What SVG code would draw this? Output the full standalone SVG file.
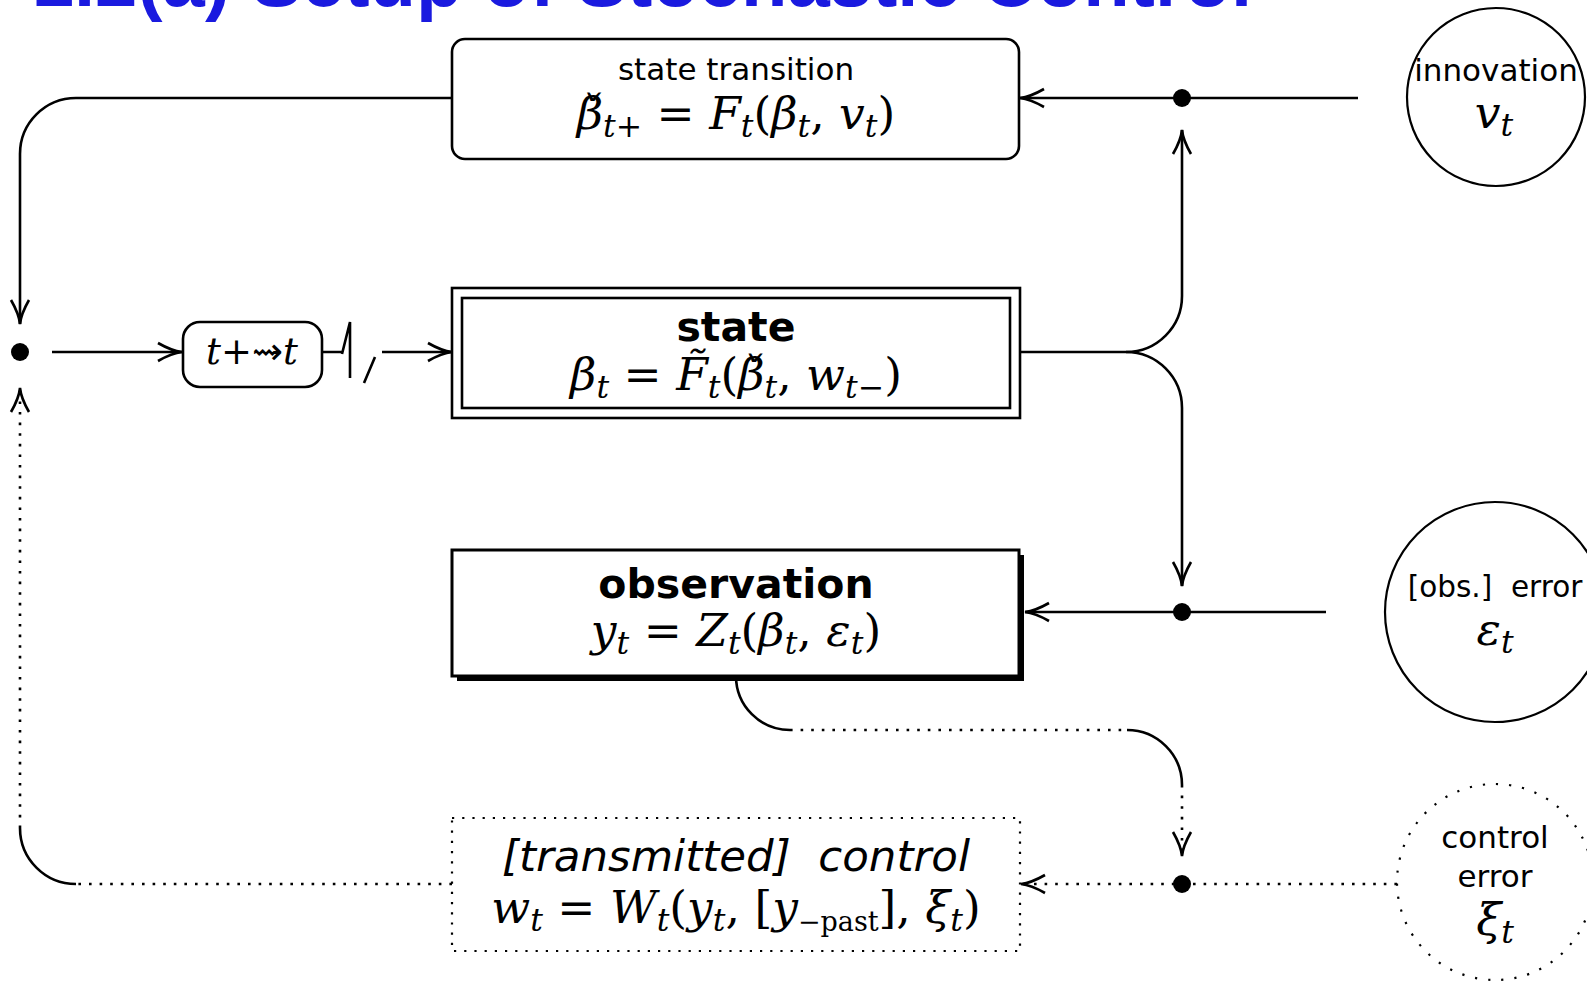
<svg xmlns="http://www.w3.org/2000/svg" width="1587" height="981" viewBox="0 0 1587 981">
<style>
.bx{fill:#fff;stroke:#000;stroke-width:2.6}
.ln{fill:none;stroke:#000;stroke-width:2.6}
.dt{fill:none;stroke:#000;stroke-width:2.6;stroke-dasharray:2.6 8}
.sf{font-family:"DejaVu Sans",sans-serif;font-size:31px;fill:#000}
.bf{font-family:"DejaVu Sans",sans-serif;font-weight:bold;font-size:41px;fill:#000}
.m{font-family:"DejaVu Serif",serif;font-size:45.5px;fill:#000;white-space:pre}
.i{font-style:italic}
.s{font-size:31.5px}
.jd{fill:#000}
</style>
<defs>
<marker id="ah" markerWidth="30" markerHeight="24" refX="26" refY="12" orient="auto" markerUnits="userSpaceOnUse" viewBox="0 0 30 24">
<path d="M2,3 Q16,11 26,12 Q16,13 2,21" fill="none" stroke="#000" stroke-width="2.6" stroke-dasharray="none"/>
</marker>
</defs>
<text x="1252" y="6" text-anchor="end" font-family="Liberation Sans, sans-serif" font-weight="bold" font-size="76" fill="#1a1adf">1.2(a) Setup of Stochastic Control</text>
<g id="connectors">
<path class="ln" d="M452,98 H76 A56,56 0 0 0 20,154 V324" marker-end="url(#ah)"/>
<path class="ln" d="M52,352 H182" marker-end="url(#ah)"/>
<path class="ln" d="M322,352 H342 M342,354 L350,322 V378 M364,383 L375,357"/>
<path class="ln" d="M382,352 H452" marker-end="url(#ah)"/>
<path class="ln" d="M1020,352 H1126 A56,56 0 0 0 1182,296 V130" marker-end="url(#ah)"/>
<path class="ln" d="M1126,352 A56,56 0 0 1 1182,408 V586" marker-end="url(#ah)"/>
<path class="ln" d="M1358,98 H1020" marker-end="url(#ah)"/>
<path class="ln" d="M1326,612 H1025" marker-end="url(#ah)"/>
<path class="ln" d="M736,676 A54,54 0 0 0 790,730"/>
<path class="dt" d="M790,730 H1127"/>
<path class="ln" d="M1127,730 A55,55 0 0 1 1182,785"/>
<path class="dt" d="M1182,785 V856" marker-end="url(#ah)"/>
<path class="dt" d="M1397,884 H1021" marker-end="url(#ah)"/>
<path class="dt" d="M452,884 H76"/>
<path class="ln" d="M76,884 A56,56 0 0 1 20,828"/>
<path class="dt" d="M20,828 V388" marker-end="url(#ah)"/>
<circle class="jd" cx="20" cy="352" r="9"/>
<circle class="jd" cx="1182" cy="98" r="9"/>
<circle class="jd" cx="1182" cy="612" r="9"/>
<circle class="jd" cx="1182" cy="884" r="9"/>
</g>
<g id="transition">
<rect class="bx" x="452" y="39" width="567" height="120" rx="13"/>
<text class="sf" x="736" y="80" text-anchor="middle">state transition</text>
<text class="m" x="736" y="129" text-anchor="middle"><tspan class="i">β̌</tspan><tspan class="i s" dy="8">t</tspan><tspan class="s">+</tspan><tspan dy="-8"> = </tspan><tspan class="i">F</tspan><tspan class="i s" dy="8">t</tspan><tspan dy="-8">(</tspan><tspan class="i">β</tspan><tspan class="i s" dy="8">t</tspan><tspan dy="-8">, </tspan><tspan class="i">v</tspan><tspan class="i s" dy="8">t</tspan><tspan dy="-8">)</tspan></text>
</g>
<g id="delay">
<rect class="bx" x="183" y="322" width="139" height="65" rx="17"/>
<text class="m" x="252" y="364" text-anchor="middle" style="font-size:37px"><tspan class="i">t</tspan>+<tspan font-family="DejaVu Sans">⇝</tspan><tspan class="i">t</tspan></text>
</g>
<g id="state">
<rect class="bx" x="452" y="288" width="568" height="130"/>
<rect class="bx" x="462" y="298" width="548" height="110"/>
<text class="bf" x="736" y="341" text-anchor="middle">state</text>
<text class="m" x="736" y="390" text-anchor="middle"><tspan class="i">β</tspan><tspan class="i s" dy="8">t</tspan><tspan dy="-8"> = </tspan><tspan class="i">F̃</tspan><tspan class="i s" dy="8">t</tspan><tspan dy="-8">(</tspan><tspan class="i">β̌</tspan><tspan class="i s" dy="8">t</tspan><tspan dy="-8">, </tspan><tspan class="i">w</tspan><tspan class="i s" dy="8">t</tspan><tspan class="s">−</tspan><tspan dy="-8">)</tspan></text>
</g>
<g id="observation">
<rect x="457" y="555" width="567" height="126" fill="#000"/>
<rect class="bx" x="452" y="550" width="567" height="126" style="stroke-width:3"/>
<text class="bf" x="736" y="598" text-anchor="middle">observation</text>
<text class="m" x="736" y="646" text-anchor="middle"><tspan class="i">y</tspan><tspan class="i s" dy="8">t</tspan><tspan dy="-8"> = </tspan><tspan class="i">Z</tspan><tspan class="i s" dy="8">t</tspan><tspan dy="-8">(</tspan><tspan class="i">β</tspan><tspan class="i s" dy="8">t</tspan><tspan dy="-8">, </tspan><tspan class="i">ε</tspan><tspan class="i s" dy="8">t</tspan><tspan dy="-8">)</tspan></text>
</g>
<g id="control">
<rect x="452" y="818" width="568" height="133" fill="none" stroke="#000" stroke-width="2.2" stroke-dasharray="2.2 8"/>
<text class="sf i" x="736" y="871" text-anchor="middle" style="font-size:43.5px;white-space:pre">[transmitted]  control</text>
<text class="m" x="736" y="923" text-anchor="middle"><tspan class="i">w</tspan><tspan class="i s" dy="8">t</tspan><tspan dy="-8"> = </tspan><tspan class="i">W</tspan><tspan class="i s" dy="8">t</tspan><tspan dy="-8">(</tspan><tspan class="i">y</tspan><tspan class="i s" dy="8">t</tspan><tspan dy="-8">, [</tspan><tspan class="i">y</tspan><tspan class="s" dy="8" style="font-size:27px">−past</tspan><tspan dy="-8">], </tspan><tspan class="i">ξ</tspan><tspan class="i s" dy="8">t</tspan><tspan dy="-8">)</tspan></text>
</g>
<g id="innovation">
<circle cx="1496" cy="97" r="89" fill="none" stroke="#000" stroke-width="2.2"/>
<text class="sf" x="1496" y="81" text-anchor="middle">innovation</text>
<text class="m i" x="1494" y="128" text-anchor="middle">v<tspan class="s" dy="8">t</tspan></text>
</g>
<g id="obs-error">
<circle cx="1495" cy="612" r="110" fill="none" stroke="#000" stroke-width="2.2"/>
<text class="sf" x="1495" y="597" text-anchor="middle" style="white-space:pre;font-size:29.5px">[obs.]  error</text>
<text class="m i" x="1495" y="645" text-anchor="middle">ε<tspan class="s" dy="8">t</tspan></text>
</g>
<g id="control-error">
<circle cx="1495" cy="882" r="98" fill="none" stroke="#000" stroke-width="2.2" stroke-dasharray="2.2 11"/>
<text class="sf" x="1495" y="848" text-anchor="middle">control</text>
<text class="sf" x="1495" y="887" text-anchor="middle">error</text>
<text class="m i" x="1495" y="935" text-anchor="middle">ξ<tspan class="s" dy="8">t</tspan></text>
</g>
</svg>
